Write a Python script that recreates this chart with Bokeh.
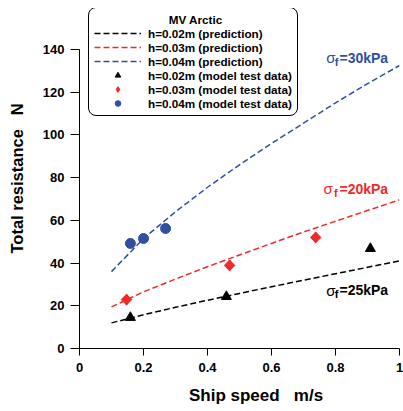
from bokeh.plotting import figure
from bokeh.models import Legend, LegendItem, Label, Range1d, FixedTicker
from bokeh.embed import file_html
from bokeh.resources import INLINE

# ---- data ----
speed_pred = [0.1, 0.2, 0.3, 0.4, 0.5, 0.6, 0.7, 0.8, 0.9, 1.0]
pred_h002 = [12.0, 15.8, 19.3, 22.6, 25.8, 28.9, 32.0, 35.0, 38.0, 41.0]
pred_h003 = [19.5, 26.5, 32.5, 38.3, 43.8, 49.2, 54.5, 59.6, 64.6, 69.6]
pred_h004 = [36.0, 51.5, 64.0, 75.5, 86.0, 96.0, 105.5, 115.0, 124.0, 132.5]

test_speed_h002 = [0.159, 0.459, 0.909]
test_res_h002 = [14.5, 24.3, 46.8]
test_speed_h003 = [0.147, 0.469, 0.738]
test_res_h003 = [22.9, 38.9, 52.0]
test_speed_h004 = [0.159, 0.200, 0.269]
test_res_h004 = [49.2, 51.5, 56.2]

x_ticks = [0, 0.2, 0.4, 0.6, 0.8, 1.0]
y_ticks = [0, 20, 40, 60, 80, 100, 120, 140]

BLACK = "#000000"
RED = "#ee2a2a"
BLUE = "#2f4fa2"
FONT = "Liberation Sans"

p = figure(width=403, height=411, output_backend="svg", toolbar_location=None,
           x_range=Range1d(0, 1), y_range=Range1d(0, 159.2),
           min_border_left=79, min_border_right=4, min_border_top=8, min_border_bottom=63)
p.outline_line_color = None
p.grid.visible = False
p.background_fill_color = "white"
p.border_fill_color = "white"

for ax in (p.xaxis[0], p.yaxis[0]):
    ax.major_label_text_font = FONT
    ax.major_label_text_font_style = "bold"
    ax.major_label_text_font_size = "13px"
    ax.major_label_text_color = "black"
    ax.axis_line_color = "black"
    ax.major_tick_line_color = "black"
    ax.minor_tick_line_color = None
    ax.major_tick_in = 0
    ax.axis_label_text_font = FONT
    ax.axis_label_text_font_style = "bold"
    ax.axis_label_text_font_size = "16.5px"
    ax.axis_label_text_color = "black"

p.xaxis[0].ticker = FixedTicker(ticks=x_ticks)
p.yaxis[0].ticker = FixedTicker(ticks=y_ticks)
p.yaxis[0].bounds = (0, 140)
p.xaxis[0].major_tick_out = 7
p.yaxis[0].major_tick_out = 9
p.xaxis[0].major_label_standoff = 7
p.yaxis[0].major_label_standoff = 6
p.xaxis[0].major_label_overrides = {0: "0", 0.2: "0.2", 0.4: "0.4", 0.6: "0.6", 0.8: "0.8", 1.0: "1"}
p.yaxis[0].axis_label = "Total resistance\u00a0\u00a0\u00a0N"
p.yaxis[0].axis_label_standoff = 14
p.xaxis[0].axis_label = "\u00a0" * 7 + "Ship speed\u00a0\u00a0\u00a0m/s"
p.xaxis[0].axis_label_text_font_size = "17px"
p.xaxis[0].axis_label_standoff = 11

# prediction curves
l2 = p.line(speed_pred, pred_h002, line_color=BLACK, line_width=1.5, line_dash="6 3")
l3 = p.line(speed_pred, pred_h003, line_color=RED, line_width=1.5, line_dash="6 3")
l4 = p.line(speed_pred, pred_h004, line_color=BLUE, line_width=1.5, line_dash="6 3")

# test data
m2 = p.scatter(test_speed_h002, test_res_h002, marker="triangle", size=10,
               fill_color=BLACK, line_color=BLACK)
# diamond (used for the legend swatch; covered by the rotated square below)
m3_leg = p.scatter(test_speed_h003, test_res_h003, marker="diamond", size=11,
                   fill_color=RED, line_color=RED)
m3 = p.scatter(test_speed_h003, test_res_h003, marker="square", size=7.5, angle=0.785398,
               fill_color=RED, line_color=RED)
m4 = p.scatter(test_speed_h004, test_res_h004, marker="circle", size=10,
               fill_color=BLUE, line_color=BLUE)

legend = Legend(items=[
    LegendItem(label="h=0.02m (prediction)", renderers=[l2]),
    LegendItem(label="h=0.03m (prediction)", renderers=[l3]),
    LegendItem(label="h=0.04m (prediction)", renderers=[l4]),
    LegendItem(label="h=0.02m (model test data)", renderers=[m2]),
    LegendItem(label="h=0.03m (model test data)", renderers=[m3_leg]),
    LegendItem(label="h=0.04m (model test data)", renderers=[m4]),
], location=(9, 232))
legend.title = "\u00a0" * 23 + "MV Arctic"
legend.title_text_font = FONT
legend.title_text_font_style = "bold"
legend.title_text_font_size = "11.7px"
legend.title_text_color = "black"
legend.title_standoff = 0
legend.label_text_font = FONT
legend.label_text_font_style = "bold"
legend.label_text_font_size = "11.7px"
legend.label_text_color = "black"
legend.glyph_width = 47
legend.glyph_height = 14
legend.label_height = 14
legend.spacing = 0
legend.label_standoff = 7
legend.padding = 5
legend.margin = 0
legend.border_line_color = "black"
legend.border_line_alpha = 1
legend.border_line_width = 1
legend.background_fill_color = "white"
legend.background_fill_alpha = 1
try:
    legend.border_radius = 8
except Exception:
    pass
p.add_layout(legend, "center")

# sigma_f annotations
def sigma_label(xs, y, rest, color):
    p.add_layout(Label(x=xs[0], y=y, text="\u03c3", text_align="left", text_baseline="middle",
                       text_font=FONT, text_font_size="15px", text_color=color))
    p.add_layout(Label(x=xs[1], y=y - 1.9, text="f", text_align="left", text_baseline="middle",
                       text_font=FONT, text_font_style="bold", text_font_size="11px", text_color=color))
    p.add_layout(Label(x=xs[2], y=y, text=rest, text_align="left", text_baseline="middle",
                       text_font=FONT, text_font_style="bold", text_font_size="14px", text_color=color))

sigma_label([0.771, 0.7975, 0.8125], 136.2, "=30kPa", BLUE)
sigma_label([0.7625, 0.795, 0.8125], 74.9, "=20kPa", RED)
sigma_label([0.771, 0.7975, 0.8125], 27.2, "=25kPa", BLACK)

open("out.html", "w").write(file_html(p, INLINE))
